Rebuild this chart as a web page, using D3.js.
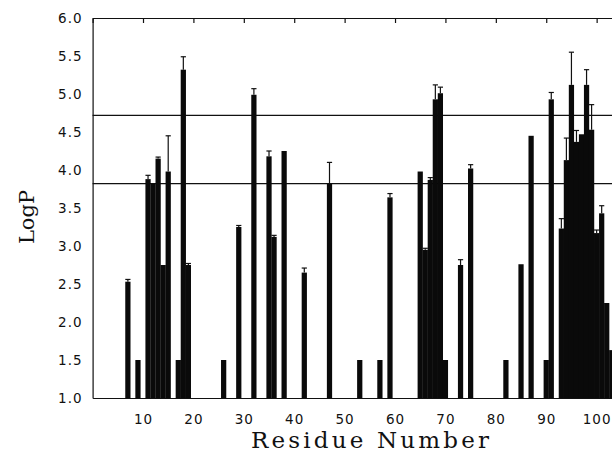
<!DOCTYPE html>
<html>
<head>
<meta charset="utf-8">
<script src="https://cdn.jsdelivr.net/npm/d3@7"></script>
<style>
  body { margin: 0; background: #fff; }
  .tick text { font-family: "DejaVu Sans", sans-serif; font-size: 13.5px; letter-spacing: 1px; fill: #111; }
  .axis-title { font-family: "DejaVu Serif", serif; fill: #111; }
</style>
</head>
<body>
<div id="chart"></div>
<script>
// LogP per residue
const residues = [7, 9, 11, 12, 13, 14, 15, 17, 18, 19,
                  26, 29, 32, 35, 36, 38, 42, 47, 53, 57,
                  59, 65, 66, 67, 68, 69, 70, 73, 75, 82,
                  85, 87, 90, 91, 93, 94, 95, 96, 97, 98,
                  99, 100, 101, 102, 103];
const logP = [2.53, 1.5, 3.88, 3.82, 4.15, 2.75, 3.98, 1.5, 5.32, 2.75,
              1.5, 3.25, 4.99, 4.18, 3.12, 4.25, 2.65, 3.82, 1.5, 1.5,
              3.64, 3.98, 2.95, 3.87, 4.93, 5.01, 1.5, 2.75, 4.02, 1.5,
              2.76, 4.45, 1.5, 4.93, 3.23, 4.13, 5.12, 4.37, 4.47, 5.12,
              4.53, 3.17, 3.43, 2.25, 1.63];
// upper error (LogP units above the bar top)
const errUp = [0.03, 0, 0.05, 0, 0.02, 0, 0.47, 0, 0.17, 0.02,
               0, 0.02, 0.08, 0.07, 0.02, 0, 0.06, 0.28, 0, 0,
               0.05, 0, 0.02, 0.03, 0.19, 0.08, 0, 0.07, 0.05, 0,
               0, 0, 0, 0.09, 0.13, 0.29, 0.43, 0.15, 0, 0.2,
               0.33, 0.04, 0.1, 0, 0];
const thresholds = [4.72, 3.82];
const xTicks = [10, 20, 30, 40, 50, 60, 70, 80, 90, 100];
const yTicks = [1.0, 1.5, 2.0, 2.5, 3.0, 3.5, 4.0, 4.5, 5.0, 5.5, 6.0];

const width = 612, height = 458;
const svg = d3.select('#chart').append('svg')
    .attr('width', width)
    .attr('height', height)
    .attr('viewBox', `0 0 ${width} ${height}`);

// plot area runs past the right edge, as in the scan
const x = d3.scaleLinear().domain([0, 104]).range([92.6, 616.8]);
const y = d3.scaleLinear().domain([1, 6]).range([398, 18]);

const data = residues.map((r, i) => ({ r, v: logP[i], e: errUp[i] }));
const barW = x(1.04) - x(0);

// reference lines
svg.append('g').selectAll('line')
    .data(thresholds)
    .join('line')
    .attr('x1', x(0)).attr('x2', width + 10)
    .attr('y1', d => y(d)).attr('y2', d => y(d))
    .attr('stroke', '#111').attr('stroke-width', 1.3);

// bars
svg.append('g').selectAll('rect')
    .data(data)
    .join('rect')
    .attr('x', d => x(d.r) - barW / 2)
    .attr('y', d => y(d.v))
    .attr('width', barW)
    .attr('height', d => y(1) - y(d.v))
    .attr('fill', '#0a0a0a');

// error bars (upper only)
const errs = svg.append('g').selectAll('g')
    .data(data.filter(d => d.e > 0))
    .join('g')
    .attr('stroke', '#111')
    .attr('stroke-width', 1.2);
errs.append('line')
    .attr('x1', d => x(d.r)).attr('x2', d => x(d.r))
    .attr('y1', d => y(d.v)).attr('y2', d => y(d.v + d.e));
errs.append('line')
    .attr('x1', d => x(d.r) - 2.6).attr('x2', d => x(d.r) + 2.6)
    .attr('y1', d => y(d.v + d.e)).attr('y2', d => y(d.v + d.e));

// axes
const topAxis = svg.append('g')
    .attr('transform', `translate(0,${y(6)})`)
    .call(d3.axisBottom(x).tickValues(xTicks).tickSize(5).tickFormat(''));

const bottomAxis = svg.append('g')
    .attr('transform', `translate(0,${y(1)})`)
    .call(d3.axisBottom(x).tickValues(xTicks).tickSize(0).tickPadding(16));

const leftAxis = svg.append('g')
    .attr('transform', `translate(${x(0)},0)`)
    .call(d3.axisLeft(y).tickValues(yTicks).tickSize(0).tickPadding(10).tickFormat(d3.format('.1f')));

[topAxis, bottomAxis, leftAxis].forEach(g => {
    g.select('.domain').attr('stroke', '#111').attr('stroke-width', 1.2);
    g.selectAll('.tick line').attr('stroke', '#111').attr('stroke-width', 1.2);
});

// axis titles
svg.append('text')
    .attr('class', 'axis-title')
    .attr('x', 370).attr('y', 448)
    .attr('text-anchor', 'middle')
    .attr('font-size', 23)
    .attr('textLength', 238)
    .attr('lengthAdjust', 'spacing')
    .text('Residue Number');

svg.append('text')
    .attr('class', 'axis-title')
    .attr('transform', 'translate(34,217) rotate(-90)')
    .attr('text-anchor', 'middle')
    .attr('font-size', 21)
    .text('LogP');
</script>
</body>
</html>
